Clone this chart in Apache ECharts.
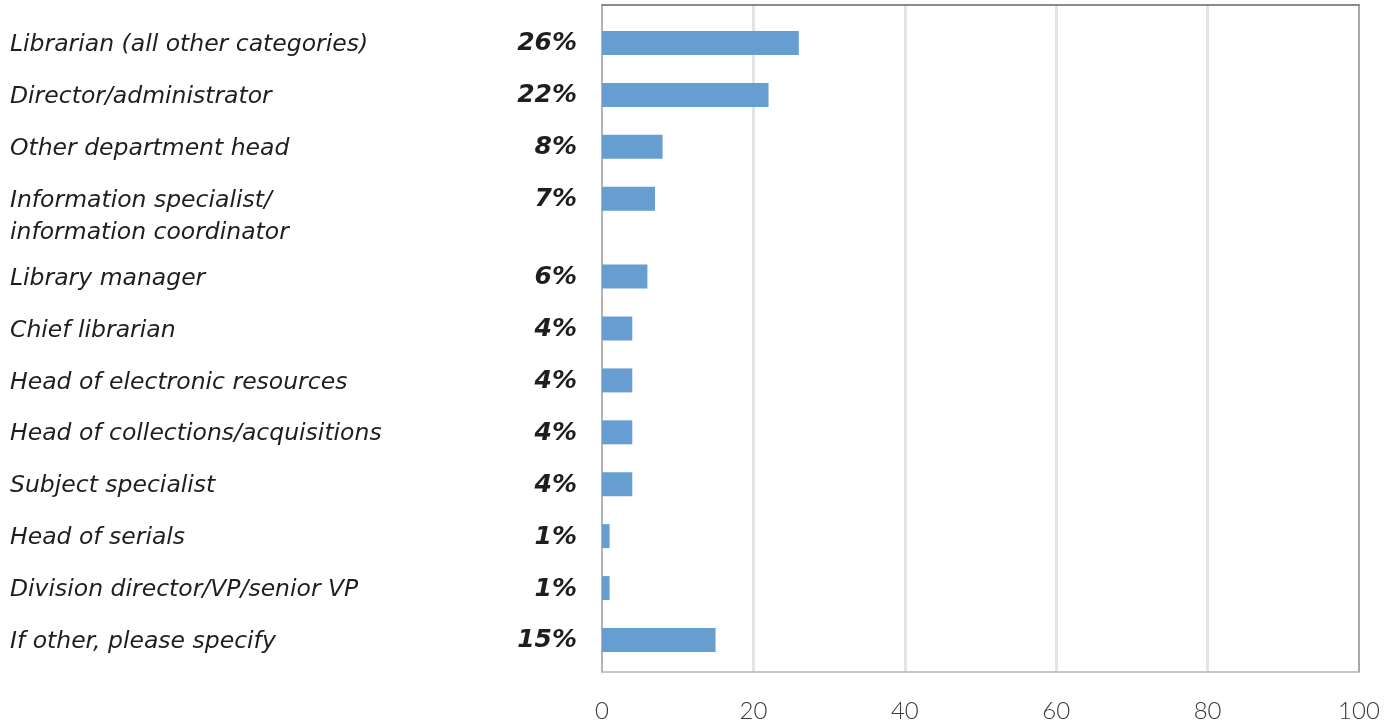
<!DOCTYPE html>
<html>
<head>
<meta charset="utf-8">
<style>
  html, body { margin: 0; padding: 0; background: #ffffff; }
  #chart { width: 1396px; height: 728px; }
</style>
<script src="https://cdn.jsdelivr.net/npm/echarts@6/dist/echarts.min.js"></script>
</head>
<body>
<div id="chart"></div>
<script>
// Job titles of respondents, top to bottom
const roles = [
  'Librarian (all other categories)',
  'Director/administrator',
  'Other department head',
  'Information specialist/\ninformation coordinator',
  'Library manager',
  'Chief librarian',
  'Head of electronic resources',
  'Head of collections/acquisitions',
  'Subject specialist',
  'Head of serials',
  'Division director/VP/senior VP',
  'If other, please specify'
];

// Share of respondents, percent
const shares = [26, 22, 8, 7, 6, 4, 4, 4, 4, 1, 1, 15];

// Value axis ticks
const xTicks = [0, 20, 40, 60, 80, 100];

// Row positions: a title that wraps to two lines pushes the rows below it down by half a row
const rows = [];
let offset = 0;
roles.forEach((name, i) => {
  rows.push([shares[i], i + offset, i]);
  if (name.indexOf('\n') >= 0) offset += 0.5;
});

const BAR_COLOR = '#679ed1';
const FONT = '"DejaVu Sans", "Open Sans", sans-serif';
const TICK_FONT = 'Lato, "Open Sans", sans-serif';

const chart = echarts.init(document.getElementById('chart'), null, { renderer: 'canvas' });

const hiddenAxis = {
  axisTick: { show: false },
  axisLabel: { show: false },
  splitLine: { show: false }
};

chart.setOption({
  animation: false,
  backgroundColor: '#ffffff',
  grid: { left: 602, right: 37, top: 5, bottom: 56, containLabel: false },
  xAxis: [
    {
      type: 'value',
      position: 'bottom',
      min: xTicks[0],
      max: xTicks[xTicks.length - 1],
      interval: xTicks[1] - xTicks[0],
      axisLine: { show: true, onZero: false, lineStyle: { color: '#b4b4b4', width: 1.5 } },
      axisTick: { show: false },
      axisLabel: {
        margin: 27,
        fontSize: 24,
        fontFamily: TICK_FONT,
        fontWeight: 300,
        color: '#3a3a3a'
      },
      splitLine: {
        show: true,
        showMinLine: false,
        showMaxLine: false,
        lineStyle: { color: '#e3e3e3', width: 3 }
      }
    },
    Object.assign({
      type: 'value',
      position: 'top',
      min: 0,
      max: 1,
      axisLine: { show: true, onZero: false, lineStyle: { color: '#666666', width: 1.5 } }
    }, hiddenAxis)
  ],
  yAxis: [
    Object.assign({
      type: 'value',
      inverse: true,
      min: -0.732,
      max: 12.117,
      position: 'left',
      axisLine: { show: true, onZero: false, lineStyle: { color: '#9a9a9a', width: 1.5 } }
    }, hiddenAxis),
    Object.assign({
      type: 'value',
      min: 0,
      max: 1,
      position: 'right',
      axisLine: { show: true, onZero: false, lineStyle: { color: '#8a8a8a', width: 1.5 } }
    }, hiddenAxis)
  ],
  series: [
    {
      type: 'custom',
      xAxisIndex: 0,
      yAxisIndex: 0,
      clip: false,
      encode: { x: 0, y: 1 },
      data: rows,
      renderItem: function (params, api) {
        const val = api.value(0);
        const pos = api.value(1);
        const idx = api.value(2);
        const start = api.coord([0, pos]);
        const end = api.coord([val, pos]);
        const barH = 24;
        return {
          type: 'group',
          children: [
            {
              type: 'rect',
              shape: { x: start[0], y: start[1] - barH / 2, width: end[0] - start[0], height: barH },
              style: { fill: BAR_COLOR }
            },
            {
              type: 'text',
              x: 10,
              y: start[1] - 14,
              style: {
                text: roles[idx],
                fill: '#1e1e1e',
                font: 'italic 400 23.5px ' + FONT,
                lineHeight: 32,
                align: 'left',
                verticalAlign: 'top'
              }
            },
            {
              type: 'text',
              x: start[0] - 25,
              y: start[1] + 1,
              style: {
                text: val + '%',
                fill: '#1e1e1e',
                font: 'italic 700 25px ' + FONT,
                align: 'right',
                verticalAlign: 'middle'
              }
            }
          ]
        };
      }
    }
  ]
});
</script>
</body>
</html>
